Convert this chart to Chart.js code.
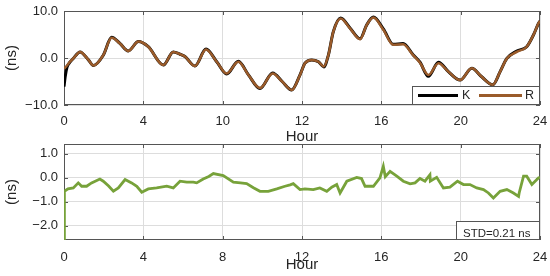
<!DOCTYPE html>
<html>
<head>
<meta charset="utf-8">
<script src="https://cdn.jsdelivr.net/npm/chart.js@4/dist/chart.umd.min.js"></script>
<style>
  html, body { margin: 0; padding: 0; background: #fff; }
  #wrap { position: relative; width: 550px; height: 276px; overflow: hidden; }
  canvas { position: absolute; left: 0; }
  #topChart { top: 0; }
  #bottomChart { top: 140px; }
</style>
</head>
<body>
<div id="wrap">
  <canvas id="topChart" width="550" height="146"></canvas>
  <canvas id="bottomChart" width="550" height="136"></canvas>
</div>
<script>
// clock offsets of the two solutions (ns)
const hours = [0, 0.06, 0.15, 0.3, 0.47, 0.81, 1.23, 1.48, 1.98, 2.4, 2.82, 3.24, 3.75, 4.25, 5.01, 5.51,
  5.85, 6.1, 6.6, 7.16, 7.7, 8.2, 8.79, 9.3, 9.88, 10.52, 11.0, 11.48, 11.9, 12.15, 12.49, 12.83, 13.1,
  13.33, 13.58, 13.95, 14.42, 14.93, 15.26, 15.6, 16.1, 16.6, 17.1, 17.6, 17.95, 18.37, 18.88, 19.38,
  19.97, 20.56, 21.06, 21.62, 21.99, 22.33, 22.83, 23.33, 23.67, 23.97, 24];
const kValues = [-6.1, -4.0, -2.0, -0.9, -0.1, 1.3, -0.4, -1.6, 0.6, 4.4, 3.1, 1.5, 3.5, 2.4, -1.5, 1.3,
  0.8, 0.3, -1.7, 1.9, -0.8, -3.4, -0.7, -3.6, -6.5, -3.2, -5.0, -6.8, -3.6, -1.1, -0.4, -0.8, -1.9,
  0.6, 5.6, 8.5, 6.4, 4.1, 7.0, 8.7, 6.2, 2.9, 3.1, 0.7, -0.9, -3.9, -0.9, -2.9, -4.7, -2.2, -4.0,
  -5.7, -2.9, -0.1, 1.5, 2.4, 4.9, 7.7, 7.8];
const rValues = [-2.3, -2.0, -1.6, -0.8, -0.1, 1.3, -0.4, -1.6, 0.6, 4.3, 3.1, 1.5, 3.5, 2.4, -1.5, 1.3,
  0.8, 0.3, -1.7, 1.8, -0.8, -3.3, -0.8, -3.6, -6.4, -3.3, -5.0, -6.8, -3.6, -1.1, -0.4, -0.8, -1.8,
  0.6, 5.6, 8.4, 6.3, 4.0, 7.0, 8.6, 6.0, 2.8, 2.9, 0.6, -1.0, -3.6, -1.1, -2.9, -4.7, -2.2, -4.0,
  -5.7, -2.9, -0.1, 1.3, 2.4, 4.9, 7.7, 7.8];

// difference K - R (ns), lower panel
const diffHours = [0, 0.02, 0.2, 0.47, 0.72, 0.89, 1.14, 1.39, 1.81, 1.98, 2.25, 2.49, 2.74, 3.08, 3.41,
  3.67, 3.92, 4.25, 4.67, 5.18, 5.51, 5.85, 6.19, 6.52, 6.69, 7.02, 7.3, 7.53, 8.03, 8.54, 8.9, 9.21,
  9.55, 9.88, 10.3, 10.73, 11.14, 11.4, 11.56, 11.9, 12.15, 12.57, 12.9, 13.25, 13.5, 13.75, 13.92,
  14.26, 14.76, 15.0, 15.18, 15.6, 15.93, 16.1, 16.2, 16.44, 16.78, 17.11, 17.45, 17.7, 17.95, 18.2,
  18.45, 18.47, 18.79, 19.13, 19.46, 19.84, 20.14, 20.47, 20.81, 21.15, 21.4, 21.65, 21.99, 22.33,
  22.66, 22.92, 22.95, 23.17, 23.33, 23.59, 23.93, 24];
const diffValues = [-2.6, -0.57, -0.47, -0.43, -0.22, -0.36, -0.36, -0.22, -0.06, -0.15, -0.35, -0.57,
  -0.43, -0.08, -0.22, -0.36, -0.61, -0.47, -0.43, -0.36, -0.43, -0.15, -0.19, -0.19, -0.22, -0.06,
  0.05, 0.17, 0.08, -0.19, -0.22, -0.25, -0.42, -0.57, -0.57, -0.47, -0.36, -0.3, -0.25, -0.5, -0.47,
  -0.5, -0.43, -0.57, -0.4, -0.29, -0.64, -0.15, 0.01, -0.04, -0.36, -0.36, -0.01, 0.47, 0.04, 0.26,
  0.06, -0.15, -0.26, -0.22, -0.04, -0.15, 0.12, -0.15, 0.01, -0.43, -0.4, -0.15, -0.29, -0.29, -0.43,
  -0.5, -0.64, -0.85, -0.57, -0.5, -0.64, -0.78, -0.64, 0.06, 0.06, -0.29, -0.01, 0.0];

const hourTicks = [0, 4, 8, 12, 16, 20, 24];
const topHourLabels = ['0', '4', '10', '12', '16', '20', '24'];
const bottomHourLabels = ['0', '4', '8', '12', '16', '20', '24'];
const topNsTicks = [-10, 0, 10];
const bottomNsTicks = [-2, -1, 0, 1];
const seriesNames = ['K', 'R'];
const stdText = 'STD=0.21 ns';

const FONT = '"Liberation Sans", Arial, sans-serif';
const TEXT = '#262626';
const FRAME = '#555555';
const GRID = '#dddddd';
Chart.defaults.font.family = FONT;

const fmtNs = v => v.toFixed(1).replace('-', '\u2212');

// frame box + inward ticks under the lines, titles and in-plot boxes on top
const deco = {
  id: 'deco',
  beforeDatasetsDraw(chart) {
    const ctx = chart.ctx;
    const { left, right, top, bottom } = chart.chartArea;
    const xs = chart.scales.x, ys = chart.scales.y;
    ctx.save();
    ctx.strokeStyle = FRAME;
    ctx.lineWidth = 1;
    ctx.strokeRect(left + 0.5, top + 0.5, right - left - 1, bottom - top - 1);
    ctx.beginPath();
    xs.ticks.forEach(t => {
      const px = Math.round(xs.getPixelForValue(t.value)) + 0.5;
      ctx.moveTo(px, top); ctx.lineTo(px, top + 4);
      ctx.moveTo(px, bottom); ctx.lineTo(px, bottom - 4);
    });
    ys.ticks.forEach(t => {
      const py = Math.round(ys.getPixelForValue(t.value)) + 0.5;
      ctx.moveTo(left, py); ctx.lineTo(left + 4, py);
      ctx.moveTo(right, py); ctx.lineTo(right - 4, py);
    });
    ctx.stroke();
    ctx.restore();
  },
  afterDraw(chart, args, opts) {
    const ctx = chart.ctx;
    const { left, right, top, bottom } = chart.chartArea;
    ctx.save();
    ctx.fillStyle = TEXT;
    ctx.font = '15px ' + FONT;
    ctx.textAlign = 'center';
    ctx.textBaseline = 'middle';
    ctx.fillText('Hour', (left + right) / 2, opts.xTitleY);
    ctx.save();
    ctx.translate(12, (top + bottom) / 2);
    ctx.rotate(-Math.PI / 2);
    ctx.fillText('(ns)', 0, 0);
    ctx.restore();

    ctx.strokeStyle = FRAME;
    ctx.lineWidth = 1;
    if (opts.legend) {
      const bx = right - 128, by = bottom - 19;
      ctx.fillStyle = '#fff';
      ctx.fillRect(bx, by, 128, 19);
      ctx.strokeRect(bx + 0.5, by + 0.5, 127, 18);
      const slots = [{ x0: 6, x1: 46, tx: 50 }, { x0: 67, x1: 110, tx: 113 }];
      seriesNames.forEach((name, i) => {
        const ds = chart.data.datasets.find(d => d.label === name);
        const s = slots[i];
        ctx.strokeStyle = ds.borderColor;
        ctx.lineWidth = 3;
        ctx.beginPath();
        ctx.moveTo(bx + s.x0, by + 9.5);
        ctx.lineTo(bx + s.x1, by + 9.5);
        ctx.stroke();
        ctx.fillStyle = TEXT;
        ctx.font = '12.5px ' + FONT;
        ctx.textAlign = 'left';
        ctx.fillText(name, bx + s.tx, by + 10);
      });
    }
    if (opts.std) {
      const bx = right - 84, by = bottom - 19;
      ctx.fillStyle = '#fff';
      ctx.fillRect(bx, by, 84, 19);
      ctx.strokeRect(bx + 0.5, by + 0.5, 83, 18);
      ctx.fillStyle = TEXT;
      ctx.font = '11.5px ' + FONT;
      ctx.textAlign = 'left';
      ctx.textBaseline = 'alphabetic';
      ctx.fillText(opts.std, bx + 7, bottom - 3.5);
    }
    ctx.restore();
  }
};

function axes(xLabels, nsTicks, yMin, yMax, xHeight, tickPad) {
  return {
    x: {
      type: 'linear', min: 0, max: 24,
      afterBuildTicks: s => { s.ticks = hourTicks.map(v => ({ value: v })); },
      afterFit: s => { s.height = xHeight; s.paddingLeft = 0; s.paddingRight = 0; },
      grid: { color: GRID, drawTicks: false },
      border: { display: false },
      ticks: {
        padding: tickPad, color: TEXT, font: { size: 13 }, maxRotation: 0, autoSkip: false,
        callback: v => xLabels[hourTicks.indexOf(v)]
      }
    },
    y: {
      min: yMin, max: yMax,
      afterBuildTicks: s => { s.ticks = nsTicks.map(v => ({ value: v })); },
      afterFit: s => { s.width = 64; s.paddingTop = 0; s.paddingBottom = 0; },
      grid: { color: GRID, drawTicks: false },
      border: { display: false },
      ticks: { padding: 6, color: TEXT, font: { size: 13 }, callback: v => fmtNs(v) }
    }
  };
}

const pts = (xs, ys) => xs.map((h, i) => ({ x: h, y: ys[i] }));

new Chart(document.getElementById('topChart'), {
  type: 'line',
  data: {
    datasets: [
      { label: 'K', data: pts(hours, kValues), borderColor: '#000000', borderWidth: 3, order: 2,
        pointRadius: 0, cubicInterpolationMode: 'monotone' },
      { label: 'R', data: pts(hours, rValues), borderColor: '#9a5b2a', borderWidth: 2.5, order: 1,
        pointRadius: 0, cubicInterpolationMode: 'monotone' }
    ]
  },
  options: {
    responsive: false,
    animation: false,
    layout: { padding: { top: 11, right: 10, left: 0, bottom: 0 } },
    scales: axes(topHourLabels, topNsTicks, -10, 10, 41, 9),
    plugins: {
      legend: { display: false },
      tooltip: { enabled: false },
      deco: { xTitleY: 137, legend: true }
    }
  },
  plugins: [deco]
});

new Chart(document.getElementById('bottomChart'), {
  type: 'line',
  data: {
    datasets: [
      { label: 'K-R', data: pts(diffHours, diffValues), borderColor: '#77a23a', borderWidth: 2.8,
        pointRadius: 0, tension: 0 }
    ]
  },
  options: {
    responsive: false,
    animation: false,
    layout: { padding: { top: 4, right: 10, left: 0, bottom: 0 } },
    scales: axes(bottomHourLabels, bottomNsTicks, -2.6, 1.4, 36, 10),
    plugins: {
      legend: { display: false },
      tooltip: { enabled: false },
      deco: { xTitleY: 125, std: stdText }
    }
  },
  plugins: [deco]
});
</script>
</body>
</html>
